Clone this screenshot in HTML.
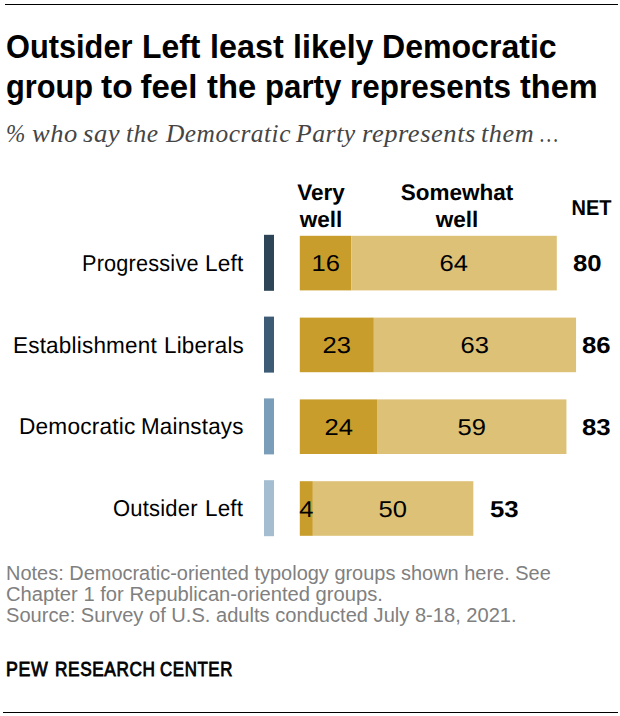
<!DOCTYPE html>
<html>
<head>
<meta charset="utf-8">
<style>
html,body{margin:0;padding:0;background:#fff;}
body{width:620px;height:716px;position:relative;overflow:hidden;font-family:"Liberation Sans",Arial,sans-serif;color:#000;}
.a{position:absolute;white-space:nowrap;}
.rule{position:absolute;background:#000;height:1px;}
.title{left:0;width:620px;height:40px;font-weight:bold;font-size:33px;line-height:40px;}
.w{position:absolute;top:0;transform-origin:0 0;}
.sub{left:0;width:620px;height:30px;top:119px;font-family:"Liberation Serif",Georgia,serif;font-style:italic;font-size:25px;line-height:30px;letter-spacing:0.5px;color:#454545;}
.hdr{font-weight:bold;font-size:22.5px;line-height:27px;text-align:center;top:179px;text-rendering:geometricPrecision;}
.lab{left:0;width:620px;height:30px;font-size:23px;line-height:30px;letter-spacing:0.2px;text-align:right;text-rendering:geometricPrecision;}
.mk{position:absolute;left:264px;width:10px;height:56px;}
.bar{position:absolute;height:54px;}
.d{background:#c99d2b;}
.l{background:#dcc176;}
.v,.net{text-rendering:geometricPrecision;}
.v{position:absolute;font-size:23px;line-height:30px;text-align:center;}
.v span,.net span{display:inline-block;transform:scale(1.11,1);transform-origin:50% 7px;}
.net{position:absolute;font-weight:bold;font-size:23px;line-height:30px;}
.net span{transform-origin:0 7px;transform:scale(1.12,1);}
.notes div{transform-origin:1px 0;}
.notes{left:6px;top:563px;font-size:20px;line-height:21px;letter-spacing:0px;color:#808080;}
.pew{left:0;width:620px;height:24px;top:657px;font-size:19.5px;line-height:24px;-webkit-text-stroke:0.8px #000;letter-spacing:0.7px;}
</style>
</head>
<body>
<div class="rule" style="left:5px;top:4px;width:613px;"></div>
<div class="a title" style="top:27px;"><span class="w" style="left:6.17px;transform:scaleX(0.9321)">Outsider</span> <span class="w" style="left:142.07px;transform:scaleX(0.9655)">Left</span> <span class="w" style="left:210.04px;transform:scaleX(0.9795)">least</span> <span class="w" style="left:293.05px;transform:scaleX(0.9750)">likely</span> <span class="w" style="left:382.06px;transform:scaleX(0.9718)">Democratic</span></div>
<div class="a title" style="top:67px;"><span class="w" style="left:5.57px;transform:scaleX(0.9319)">group</span> <span class="w" style="left:100.90px;transform:scaleX(1.0167)">to</span> <span class="w" style="left:140.50px;transform:scaleX(1.0000)">feel</span> <span class="w" style="left:206.80px;transform:scaleX(0.9918)">the</span> <span class="w" style="left:265.11px;transform:scaleX(0.9462)">party</span> <span class="w" style="left:350.09px;transform:scaleX(0.9536)">represents</span> <span class="w" style="left:520.00px;transform:scaleX(0.9857)">them</span></div>
<div class="a sub"><span class="w" style="left:5.57px;transform:scaleX(0.9278)">%</span> <span class="w" style="left:31.64px;transform:scaleX(1.0610)">who</span> <span class="w" style="left:83.20px;transform:scaleX(1.0676)">say</span> <span class="w" style="left:125.78px;transform:scaleX(1.0200)">the</span> <span class="w" style="left:165.50px;transform:scaleX(1.0156)">Democratic</span> <span class="w" style="left:295.80px;transform:scaleX(1.0293)">Party</span> <span class="w" style="left:361.64px;transform:scaleX(1.0619)">represents</span> <span class="w" style="left:480.85px;transform:scaleX(1.0500)">them</span> <span class="w" style="left:540.18px;transform:scaleX(0.8200)">…</span></div>
<div class="a hdr" style="left:281px;width:80px;">Very<br>well</div>
<div class="a hdr" style="left:397px;width:120px;">Somewhat<br>well</div>
<div class="a hdr" style="left:561.5px;width:60px;top:195px;font-size:21.5px;"><span style="display:inline-block;transform:scaleX(0.93);">NET</span></div>
<svg class="a" style="left:0;top:0" width="620" height="716" viewBox="0 0 620 716">
<rect x="264" y="234.80" width="10" height="56.00" fill="#2d4556"/>
<rect x="299.8" y="235.80" width="51.56" height="54.6" fill="#c99d2b"/>
<rect x="351.36" y="235.80" width="205.44" height="54.6" fill="#dcc176"/>
<rect x="264" y="316.60" width="10" height="56.00" fill="#3d5b75"/>
<rect x="299.8" y="317.60" width="74.03" height="54.6" fill="#c99d2b"/>
<rect x="373.83" y="317.60" width="202.23" height="54.6" fill="#dcc176"/>
<rect x="264" y="398.40" width="10" height="56.00" fill="#7a9dba"/>
<rect x="299.8" y="399.40" width="77.24" height="54.6" fill="#c99d2b"/>
<rect x="377.04" y="399.40" width="189.39" height="54.6" fill="#dcc176"/>
<rect x="264" y="480.20" width="10" height="56.00" fill="#a5bdd0"/>
<rect x="299.8" y="481.20" width="13.04" height="54.6" fill="#c99d2b"/>
<rect x="312.84" y="481.20" width="160.50" height="54.6" fill="#dcc176"/>
</svg>
<div class="a lab" style="top:248px;"><span class="w" style="left:81.61px;transform:scaleX(0.9438)">Progressive</span> <span class="w" style="left:204.53px;transform:scaleX(0.9838)">Left</span></div>
<div class="v" style="left:300px;width:51.4px;top:248px;"><span>16</span></div>
<div class="v" style="left:351.4px;width:205.4px;top:248px;"><span>64</span></div>
<div class="net" style="left:573px;top:248px;"><span>80</span></div>
<div class="a lab" style="top:330px;"><span class="w" style="left:13.24px;transform:scaleX(0.9786)">Establishment</span> <span class="w" style="left:164.15px;transform:scaleX(0.9734)">Liberals</span></div>
<div class="v" style="left:300px;width:73.8px;top:330px;"><span>23</span></div>
<div class="v" style="left:373.8px;width:202.2px;top:330px;"><span>63</span></div>
<div class="net" style="left:582px;top:330px;"><span>86</span></div>
<div class="a lab" style="top:411px;"><span class="w" style="left:19.03px;transform:scaleX(0.9852)">Democratic</span> <span class="w" style="left:140.75px;transform:scaleX(0.9738)">Mainstays</span></div>
<div class="v" style="left:300px;width:77.0px;top:412px;"><span>24</span></div>
<div class="v" style="left:377.0px;width:189.4px;top:412px;"><span>59</span></div>
<div class="net" style="left:582px;top:412px;"><span>83</span></div>
<div class="a lab" style="top:493px;"><span class="w" style="left:113.44px;transform:scaleX(0.9575)">Outsider</span> <span class="w" style="left:204.85px;transform:scaleX(0.9757)">Left</span></div>
<div class="v" style="left:300px;width:12.8px;top:494px;"><span>4</span></div>
<div class="v" style="left:312.8px;width:160.5px;top:494px;"><span>50</span></div>
<div class="net" style="left:489.5px;top:494px;"><span>53</span></div>
<div class="a notes"><div style="transform:scaleX(0.998)">Notes: Democratic-oriented typology groups shown here. See</div><div style="transform:scaleX(1.009)">Chapter 1 for Republican-oriented groups.</div><div style="transform:scaleX(1.005)">Source: Survey of U.S. adults conducted July 8-18, 2021.</div></div>
<div class="a pew"><span class="w" style="left:6.09px;transform:scaleX(0.9089)">PEW</span> <span class="w" style="left:54.82px;transform:scaleX(0.8829)">RESEARCH</span> <span class="w" style="left:160.14px;transform:scaleX(0.8646)">CENTER</span></div>
<div class="rule" style="left:3px;top:712px;width:615px;"></div>
</body>
</html>
